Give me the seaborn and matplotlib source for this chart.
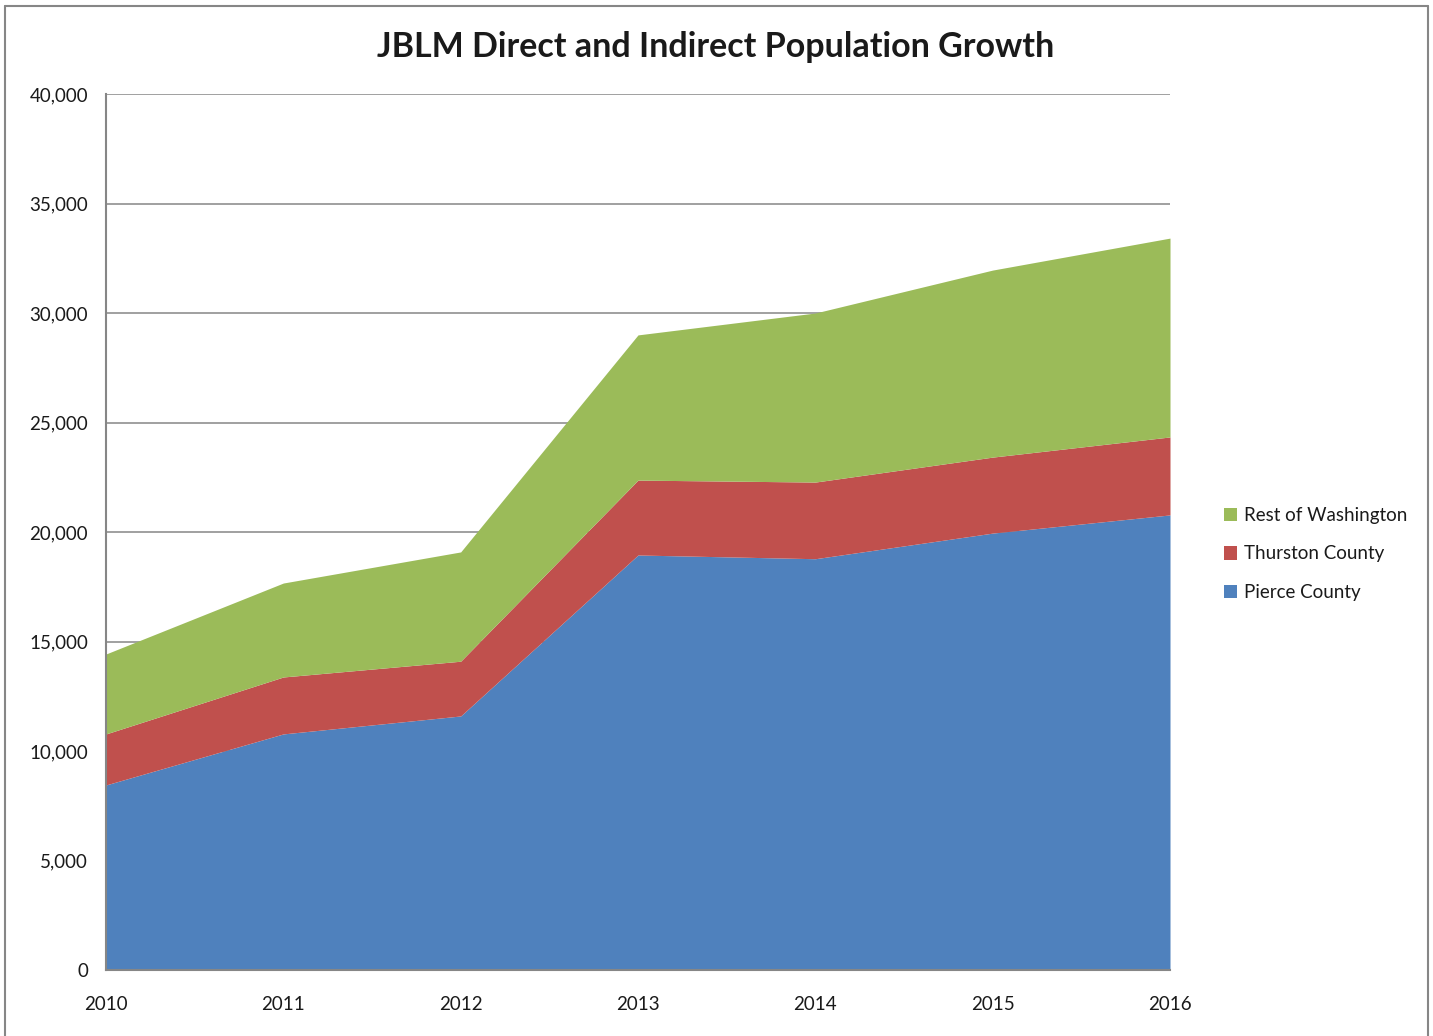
import numpy as np
import pandas as pd
import matplotlib
matplotlib.use("Agg")
import matplotlib.pyplot as plt
import seaborn as sns
from matplotlib.patches import Patch
from matplotlib.lines import Line2D
from matplotlib.ticker import FuncFormatter

# Data (people, stacked layers)
years = [2010, 2011, 2012, 2013, 2014, 2015, 2016]
pierce = [8450, 10780, 11600, 18950, 18780, 19950, 20780]
thurston = [2330, 2600, 2500, 3420, 3500, 3470, 3560]
rest_wa = [3650, 4290, 4990, 6630, 7720, 8540, 9080]

series_names = ["Pierce County", "Thurston County", "Rest of Washington"]
colors = ["#4F81BD", "#C0504D", "#9BBB59"]

df = pd.DataFrame({"year": years, "Pierce County": pierce,
                   "Thurston County": thurston, "Rest of Washington": rest_wa})

sns.set_style("white")
plt.rcParams["font.family"] = ["Lato", "DejaVu Sans"]

fig = plt.figure(figsize=(14.33, 10.36), dpi=100)
W, H = 1433, 1036
ax = fig.add_axes([106 / W, 1 - 970 / H, (1170 - 106) / W, (970 - 94) / H])

ax.stackplot(df["year"], [df[c] for c in series_names], colors=colors,
             linewidth=0, zorder=2)

ax.set_xlim(2010, 2016)
ax.set_ylim(0, 40000)
ax.set_xticks(years)
ax.set_yticks(np.arange(0, 40001, 5000))
ax.yaxis.set_major_formatter(FuncFormatter(lambda v, p: f"{int(v):,}"))
ax.grid(axis="y", color="#868686", linewidth=1.1, zorder=1)
ax.set_axisbelow(True)

for side in ["top", "right"]:
    ax.spines[side].set_visible(False)
for side in ["left", "bottom"]:
    ax.spines[side].set_color("#868686")
    ax.spines[side].set_linewidth(1.5)
    ax.spines[side].set_zorder(3)

ax.tick_params(axis="both", direction="out", length=8, width=1.2,
               color="#868686", labelsize=13.5, labelcolor="#1a1a1a")
ax.tick_params(axis="y", pad=5)
ax.tick_params(axis="x", pad=11)

fig.text(716 / W, 1 - 47 / H, "JBLM Direct and Indirect Population Growth",
         ha="center", va="center", fontsize=24.5, fontweight="bold", color="#1a1a1a")

handles = [Patch(facecolor=c, edgecolor="none") for c in colors[::-1]]
fig.legend(handles, series_names[::-1], loc="center left",
           bbox_to_anchor=(1207 / W, 1 - 554 / H), frameon=False,
           fontsize=13.5, handlelength=0.7, handleheight=0.7,
           handletextpad=0.35, labelspacing=1.15, labelcolor="#1a1a1a")

# outer chart border
border_kw = dict(color="#868686", linewidth=1.5, transform=fig.transFigure)
fig.add_artist(Line2D([5 / W, 5 / W], [0, 1 - 6 / H], **border_kw))
fig.add_artist(Line2D([5 / W, 1428 / W], [1 - 6 / H, 1 - 6 / H], **border_kw))
fig.add_artist(Line2D([1428 / W, 1428 / W], [0, 1 - 6 / H], **border_kw))

fig.savefig("out.png", dpi=100)
